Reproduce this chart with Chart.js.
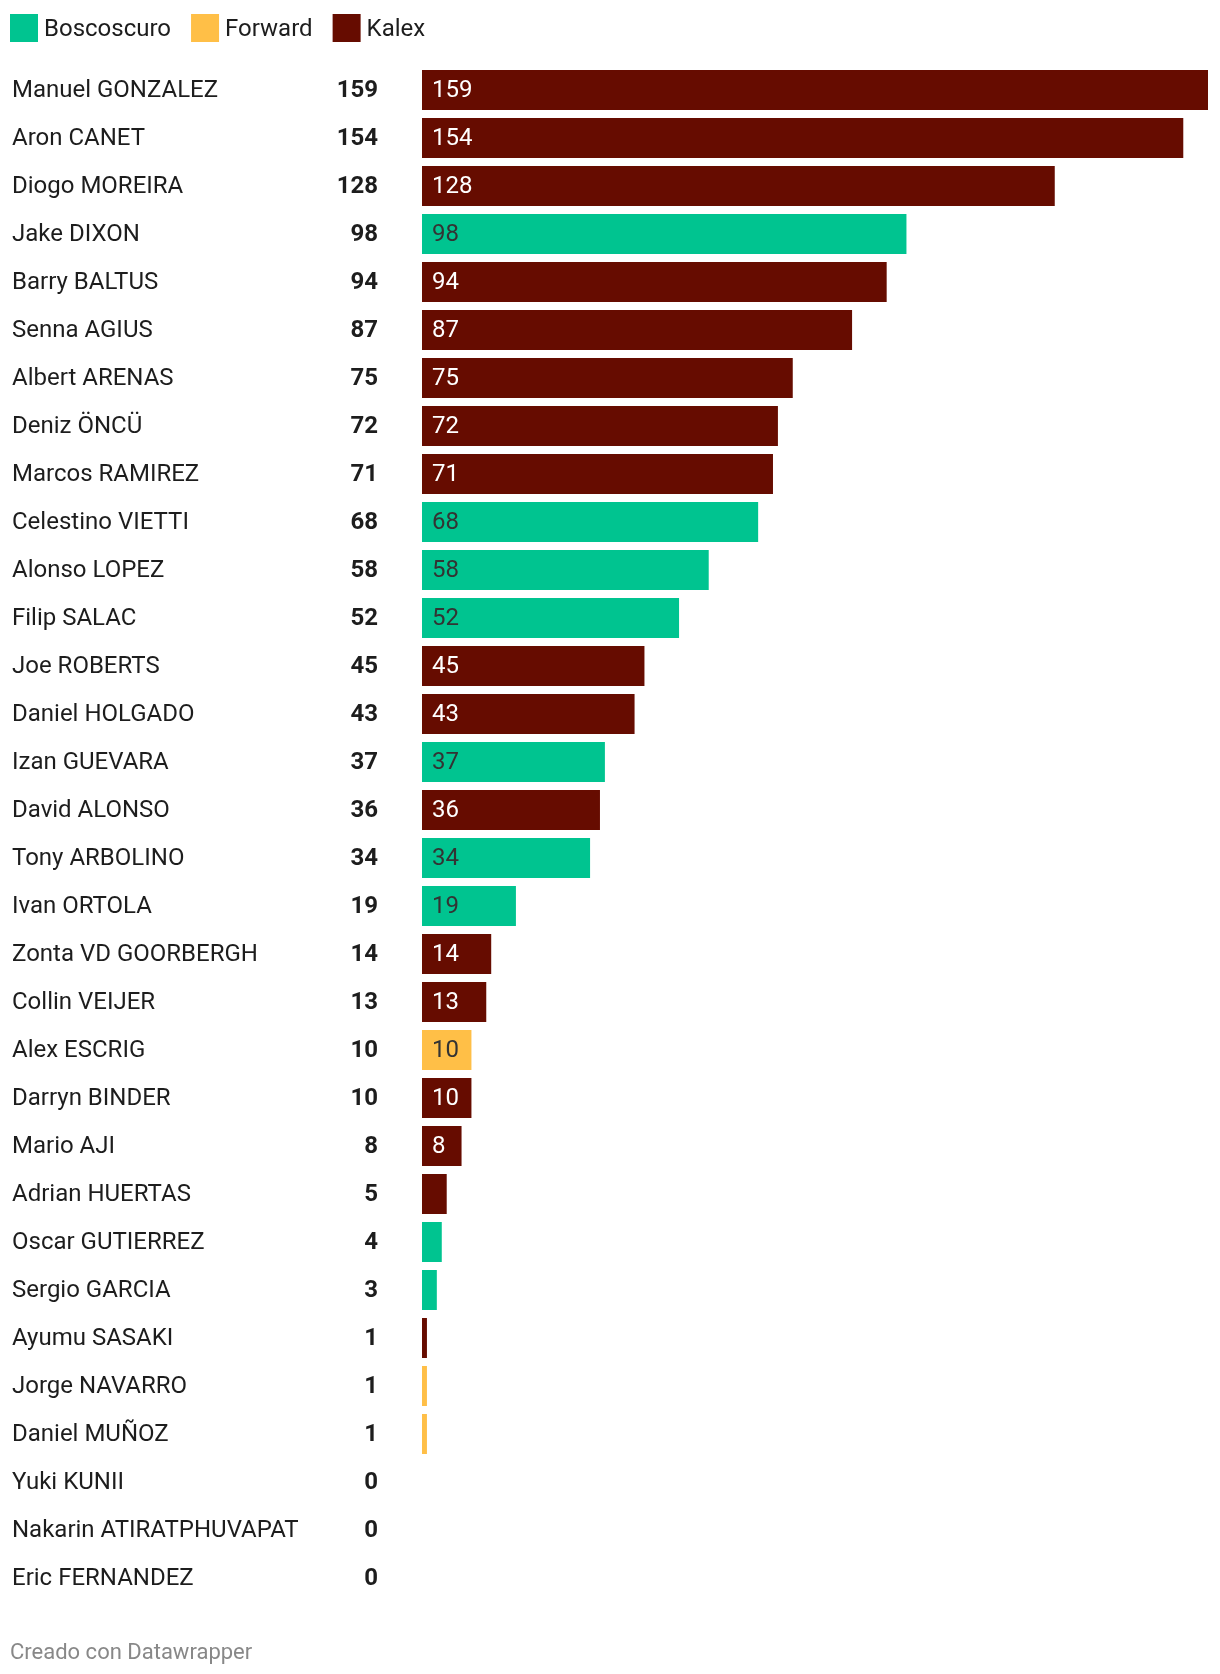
<!DOCTYPE html>
<html>
<head>
<meta charset="utf-8">
<script src="https://cdn.jsdelivr.net/npm/chart.js@4"></script>
<style>
html,body{margin:0;padding:0;background:#fff;}
#wrap{position:relative;width:1220px;height:1674px;}
</style>
</head>
<body>
<div id="wrap"><canvas id="c" width="1220" height="1674"></canvas></div>
<script>
const riders = ["Manuel GONZALEZ","Aron CANET","Diogo MOREIRA","Jake DIXON","Barry BALTUS","Senna AGIUS","Albert ARENAS","Deniz ÖNCÜ","Marcos RAMIREZ","Celestino VIETTI","Alonso LOPEZ","Filip SALAC","Joe ROBERTS","Daniel HOLGADO","Izan GUEVARA","David ALONSO","Tony ARBOLINO","Ivan ORTOLA","Zonta VD GOORBERGH","Collin VEIJER","Alex ESCRIG","Darryn BINDER","Mario AJI","Adrian HUERTAS","Oscar GUTIERREZ","Sergio GARCIA","Ayumu SASAKI","Jorge NAVARRO","Daniel MUÑOZ","Yuki KUNII","Nakarin ATIRATPHUVAPAT","Eric FERNANDEZ"];
const points = [159,154,128,98,94,87,75,72,71,68,58,52,45,43,37,36,34,19,14,13,10,10,8,5,4,3,1,1,1,0,0,0];
const teams = ["Kalex","Kalex","Kalex","Boscoscuro","Kalex","Kalex","Kalex","Kalex","Kalex","Boscoscuro","Boscoscuro","Boscoscuro","Kalex","Kalex","Boscoscuro","Kalex","Boscoscuro","Boscoscuro","Kalex","Kalex","Forward","Kalex","Kalex","Kalex","Boscoscuro","Boscoscuro","Kalex","Forward","Forward","Kalex","Kalex","Kalex"];
const legendTeams = ["Boscoscuro","Forward","Kalex"];
const teamColors = {Boscoscuro:"#00c490", Forward:"#ffbf47", Kalex:"#660c00"};
const teamTextColors = {Boscoscuro:"#333333", Forward:"#333333", Kalex:"#ffffff"};
const footerText = "Creado con Datawrapper";

const FONT = "Roboto, 'Noto Sans', sans-serif";
const TEXT = "#1d1d1d";

const overlay = {
  id: "overlay",
  afterDatasetsDraw(chart) {
    const ctx = chart.ctx;
    const y = chart.scales.y, x = chart.scales.x;
    ctx.save();
    ctx.textBaseline = "middle";
    riders.forEach((name, i) => {
      const py = y.getPixelForValue(i) + 1;
      ctx.font = "24px " + FONT;
      ctx.fillStyle = TEXT;
      ctx.textAlign = "left";
      ctx.fillText(name, 12, py);
      ctx.font = "bold 24px " + FONT;
      ctx.textAlign = "right";
      ctx.fillText(String(points[i]), 378, py);
      if (points[i] >= 8) {
        ctx.font = "24px " + FONT;
        ctx.textAlign = "left";
        ctx.fillStyle = teamTextColors[teams[i]];
        ctx.fillText(String(points[i]), x.getPixelForValue(0) + 10, py);
      }
    });
    // legend
    let lx = 10;
    ctx.font = "24px " + FONT;
    ctx.textAlign = "left";
    legendTeams.forEach(t => {
      ctx.fillStyle = teamColors[t];
      ctx.fillRect(lx, 14, 28, 28);
      ctx.fillStyle = TEXT;
      ctx.fillText(t, lx + 34, 30);
      lx += 34 + ctx.measureText(t).width + 20;
    });
    // footer
    ctx.font = "22px " + FONT;
    ctx.fillStyle = "#888888";
    ctx.fillText(footerText, 10, 1653);
    ctx.restore();
  }
};

new Chart(document.getElementById("c"), {
  type: "bar",
  data: {
    labels: riders,
    datasets: [{
      data: points,
      backgroundColor: teams.map(t => teamColors[t]),
      borderWidth: 0,
      barPercentage: 1,
      categoryPercentage: 40/48
    }]
  },
  options: {
    indexAxis: "y",
    responsive: false,
    animation: false,
    devicePixelRatio: 1,
    layout: { padding: { left: 422, right: 12, top: 66, bottom: 72 } },
    plugins: { legend: { display: false }, tooltip: { enabled: false } },
    scales: {
      x: { display: false, min: 0, max: 159 },
      y: { display: false }
    }
  },
  plugins: [overlay]
});
</script>
</body>
</html>
